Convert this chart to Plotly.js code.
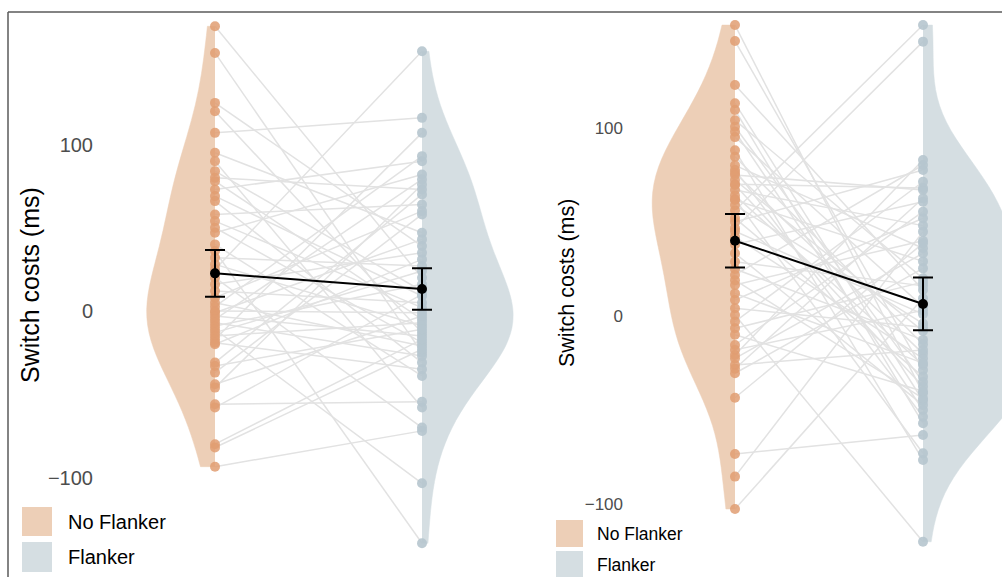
<!DOCTYPE html>
<html>
<head>
<meta charset="utf-8">
<script src="https://cdn.plot.ly/plotly-3.0.1.min.js"></script>
<style>html,body{margin:0;padding:0;background:#fff;}#chart{width:1002px;height:577px;}</style>
</head>
<body>
<div id="chart"></div>
<script>
// ---------- DATA ----------
const conditions = ['No Flanker', 'Flanker'];
const tickVals = [-100, 0, 100];
const tickText = ['\u2212100', '0', '100'];
const yTitle = 'Switch costs (ms)';

// Left panel: paired switch costs (ms), index i = same participant
const noFlankerA = [171, 155, 125, 120, 107, 95, 90, 84, 80, 78, 73, 69, 66, 58, 54, 50, 47, 40, 36, 32,
  28, 25, 20, 16, 12, 8, 5, 2.6, 0, -1, -3, -5, -7, -9, -11, -13, -15, -17, -19, -20,
  -31, -33, -37, -44, -46, -56, -58, -80, -82, -93.5];
const flankerA = [20, -25, 39, -13, 116, 47, -58, 12, 73, -5, 90, 9, -31, 64, 2, -19, 82, -39, -139.5, 27,
  -9, 156, -70, 35, 5, 60, -21, 93, -1, 43, -15, 79, -27, 16, -103.5, 24, -7, 107, -35, 31,
  70, -11, 58, -3, 76, -54.5, 10, -17, -23, -72];
const meansA = [22.6, 13.2];
const ciA = [14, 12.5];

// Right panel
const noFlankerB = [154.5, 146, 122.7, 113, 109.4, 104, 100.5, 97.9, 95, 88, 84.6, 80, 77.5, 76, 74.9, 72.2, 70, 69.6, 66.9, 64,
  62, 61.6, 58.9, 56, 52, 50, 46.6, 45, 42, 38, 33.3, 28.8, 25, 21.8, 19, 16.5, 12, 8.5, 4.1, 0.5,
  -3, -6.5, -10, -15.4, -18, -20.7, -22.5, -26, -28, -30.4, -43.4, -73.3, -85.3, -102.5];
const flankerB = [-41, -28.7, 13.8, -45, -57, 20, -35, -49.9, 5, -76.5, -15, 36, -53.5, -20, 66.9, -8, 68, -37.5, 48, -26,
  -72.9, 29, -4, 154.5, -32.2, 77.5, 145.7, 1, -22.5, 60.7, -47.3, 16, -12.7, 80.2, -43.7, 40, -25, 51.9, -6, -119.9,
  71.3, 18, -40, 55.4, 3, 82.8, 33.3, -18, 62.5, 25.3, 38.6, -63.2, 44.8, 9.4];
const meansB = [40, 6.4];
const ciB = [14.2, 14];

// ---------- STYLE ----------
const W = 1002, H = 577;
const px = x => x / W;
const py = y => 1 - y / H;
const nfFill = '#EDCFB7', fFill = '#D5DEE2';
const nfPoint = 'rgba(224,158,114,0.85)', fPoint = 'rgba(182,197,206,0.9)';
const lineCol = '#E2E2E2';
const FONT = 'Liberation Sans, Arial, sans-serif';

function panel(nf, fl, means, ci, xa, ya, wNF, wF, msize) {
  const sx = xa === 'x' ? '' : xa.slice(1);
  const out = [];
  out.push({type: 'violin', x0: 1, y: nf, side: 'negative', xaxis: xa, yaxis: ya, width: wNF,
    scalegroup: 'nf' + sx, scalemode: 'width', spanmode: 'hard', points: false,
    fillcolor: nfFill, line: {color: nfFill, width: 0.5}, box: {visible: false}, meanline: {visible: false},
    hoverinfo: 'skip', showlegend: false});
  out.push({type: 'violin', x0: 2, y: fl, side: 'positive', xaxis: xa, yaxis: ya, width: wF,
    scalegroup: 'f' + sx, scalemode: 'width', spanmode: 'hard', points: false,
    fillcolor: fFill, line: {color: fFill, width: 0.5}, box: {visible: false}, meanline: {visible: false},
    hoverinfo: 'skip', showlegend: false});
  const lx = [], ly = [];
  nf.forEach((v, i) => { lx.push(1, 2, null); ly.push(v, fl[i], null); });
  out.push({type: 'scatter', mode: 'lines', x: lx, y: ly, xaxis: xa, yaxis: ya,
    line: {color: lineCol, width: 1.5}, hoverinfo: 'skip', showlegend: false});
  out.push({type: 'scatter', mode: 'markers', x: nf.map(() => 1), y: nf, xaxis: xa, yaxis: ya,
    marker: {color: nfPoint, size: msize}, hoverinfo: 'skip', showlegend: false});
  out.push({type: 'scatter', mode: 'markers', x: fl.map(() => 2), y: fl, xaxis: xa, yaxis: ya,
    marker: {color: fPoint, size: msize}, hoverinfo: 'skip', showlegend: false});
  out.push({type: 'scatter', mode: 'lines+markers', x: [1, 2], y: means, xaxis: xa, yaxis: ya,
    line: {color: '#000', width: 2}, marker: {color: '#000', size: 10},
    error_y: {type: 'data', array: ci, visible: true, color: '#000', thickness: 2, width: 10},
    hoverinfo: 'skip', showlegend: false});
  return out;
}

const data = [].concat(
  panel(noFlankerA, flankerA, meansA, ciA, 'x', 'y', 0.66, 0.88, 10),
  panel(noFlankerB, flankerB, meansB, ciB, 'x2', 'y2', 0.88, 1.15, 10)
);

const axOff = {showgrid: false, zeroline: false, showline: false, showticklabels: false, ticks: '', fixedrange: true};
const yA = {domain: [0, 1], range: [(311 - H) / 1.665, 311 / 1.665], showgrid: false, zeroline: false, showline: false,
  ticks: '', tickvals: tickVals, ticktext: tickText, tickfont: {family: FONT, size: 20, color: '#4D4D4D'}, fixedrange: true};
const yB = Object.assign({}, yA, {range: [(316 - H) / 1.883, 316 / 1.883], anchor: 'x2',
  tickfont: {family: FONT, size: 17, color: '#4D4D4D'}});

const layout = {
  width: W, height: H, margin: {l: 0, r: 0, t: 0, b: 0, pad: 0},
  paper_bgcolor: '#fff', plot_bgcolor: 'rgba(0,0,0,0)', showlegend: false,
  xaxis: Object.assign({}, axOff, {domain: [px(94), px(545)], range: [1 - 121 / 207, 2 + 123 / 207], anchor: 'y'}),
  yaxis: Object.assign({}, yA, {anchor: 'x'}),
  xaxis2: Object.assign({}, axOff, {domain: [px(624), 1], range: [1 - 111 / 188, 2 + 79 / 188], anchor: 'y2'}),
  yaxis2: yB,
  shapes: [
    {type: 'line', xref: 'paper', yref: 'paper', x0: px(8), x1: 1, y0: py(12), y1: py(12), line: {color: '#5A5A5A', width: 1.5}},
    {type: 'line', xref: 'paper', yref: 'paper', x0: px(8), x1: px(8), y0: py(12), y1: 0, line: {color: '#5A5A5A', width: 1.5}},
    {type: 'rect', xref: 'paper', yref: 'paper', x0: px(22), x1: px(52), y0: py(536), y1: py(507), fillcolor: nfFill, line: {width: 0}},
    {type: 'rect', xref: 'paper', yref: 'paper', x0: px(22), x1: px(52), y0: py(572), y1: py(542), fillcolor: fFill, line: {width: 0}},
    {type: 'rect', xref: 'paper', yref: 'paper', x0: px(556), x1: px(583), y0: py(547), y1: py(520), fillcolor: nfFill, line: {width: 0}},
    {type: 'rect', xref: 'paper', yref: 'paper', x0: px(556), x1: px(583), y0: py(578), y1: py(551), fillcolor: fFill, line: {width: 0}}
  ],
  annotations: [
    {xref: 'paper', yref: 'paper', x: px(30), y: py(285), text: yTitle, textangle: -90, showarrow: false,
      font: {family: FONT, size: 25, color: '#000'}, xanchor: 'center', yanchor: 'middle'},
    {xref: 'paper', yref: 'paper', x: px(567), y: py(283), text: yTitle, textangle: -90, showarrow: false,
      font: {family: FONT, size: 21.5, color: '#000'}, xanchor: 'center', yanchor: 'middle'},
    {xref: 'paper', yref: 'paper', x: px(66), y: py(522), text: conditions[0], showarrow: false,
      font: {family: FONT, size: 20, color: '#000'}, xanchor: 'left', yanchor: 'middle'},
    {xref: 'paper', yref: 'paper', x: px(66), y: py(557), text: conditions[1], showarrow: false,
      font: {family: FONT, size: 20, color: '#000'}, xanchor: 'left', yanchor: 'middle'},
    {xref: 'paper', yref: 'paper', x: px(595), y: py(534), text: conditions[0], showarrow: false,
      font: {family: FONT, size: 17.5, color: '#000'}, xanchor: 'left', yanchor: 'middle'},
    {xref: 'paper', yref: 'paper', x: px(595), y: py(565), text: conditions[1], showarrow: false,
      font: {family: FONT, size: 17.5, color: '#000'}, xanchor: 'left', yanchor: 'middle'}
  ]
};

Plotly.newPlot('chart', data, layout, {staticPlot: true, displayModeBar: false});
</script>
</body>
</html>
